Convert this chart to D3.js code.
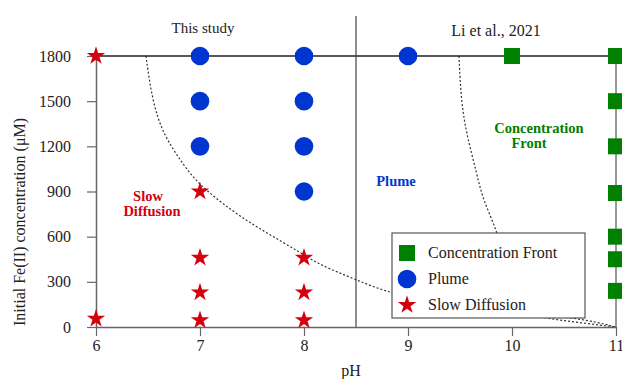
<!DOCTYPE html>
<html lang="en">
<head>
    <meta charset="UTF-8">
    <title>pH vs Fe(II) regimes</title>
    <script src="https://d3js.org/d3.v7.min.js"></script>
    <style>
        body { margin: 0; background: #fff; }
        text { font-family: "Liberation Serif", "Times New Roman", serif; }
    </style>
</head>
<body>

<svg id="main" width="622" height="379"></svg>
<script>

    // tick values
    const phTicks = [6, 7, 8, 9, 10, 11];
    const feTicks = [0, 300, 600, 900, 1200, 1500, 1800];

    // Slow Diffusion (stars)
    const slowPH = [6, 6, 7, 7, 7, 7, 8, 8, 8];
    const slowFe = [1800, 55, 900, 460, 230, 45, 460, 230, 45];

    // Plume (circles)
    const plumePH = [7, 7, 7, 8, 8, 8, 8, 9];
    const plumeFe = [1800, 1500, 1200, 1800, 1500, 1200, 900, 1800];

    // Concentration Front (squares)
    const frontPH = [10, 11, 11, 11, 11, 11, 11, 11];
    const frontFe = [1800, 1800, 1500, 1200, 890, 600, 450, 240];

    // dotted boundaries
    const boundA_PH = [6.48, 6.54, 6.64, 6.81, 6.97, 7.32, 7.64, 7.96, 8.15, 8.51, 8.86, 9.5, 10.0, 10.65, 11];
    const boundA_Fe = [1800, 1507, 1288, 1108, 956, 763, 624, 498, 412, 312, 212, 140, 100, 60, 0];
    const boundB_PH = [9.49, 9.51, 9.56, 9.66, 9.72, 9.87, 9.93, 9.98, 10.1, 10.4, 10.7, 11];
    const boundB_Fe = [1800, 1507, 1288, 1023, 843, 622, 400, 200, 90, 50, 25, 0];

    const red = '#d5000f', blue = '#0036cf', green = '#008000';

    const svg = d3.select('svg#main');

    const x = d3.scaleLinear().domain([6, 11]).range([96, 616]);
    const y = d3.scaleLinear().domain([0, 1800]).range([327, 56]);

    // dotted boundary curves
    const line = d3.line()
        .x(d => x(d[0]))
        .y(d => y(d[1]))
        .curve(d3.curveBasis);

    [[boundA_PH, boundA_Fe], [boundB_PH, boundB_Fe]].forEach(b => {
        svg.append('path')
            .attr('d', line(b[0].map((p, i) => [p, b[1][i]])))
            .attr('fill', 'none')
            .attr('stroke', '#333')
            .attr('stroke-width', 1.2)
            .attr('stroke-dasharray', '2,2');
    });

    // top line at 1800 and right border
    svg.append('line')
        .attr('x1', x(6)).attr('x2', x(11))
        .attr('y1', y(1800)).attr('y2', y(1800))
        .attr('stroke', '#222').attr('stroke-width', 1.5);
    svg.append('line')
        .attr('x1', x(11)).attr('x2', x(11))
        .attr('y1', y(1800)).attr('y2', y(0))
        .attr('stroke', '#777').attr('stroke-width', 1.5);

    // separator between this study and Li et al.
    svg.append('line')
        .attr('x1', x(8.5)).attr('x2', x(8.5))
        .attr('y1', 16).attr('y2', y(0))
        .attr('stroke', '#444').attr('stroke-width', 1.2);

    // axes
    const xAxis = svg.append('g')
        .attr('transform', `translate(0,${y(0)})`)
        .call(d3.axisBottom(x).tickValues(phTicks).tickFormat(d3.format('d'))
            .tickSize(9).tickPadding(4).tickSizeOuter(0));
    const yAxis = svg.append('g')
        .attr('transform', `translate(${x(6)},0)`)
        .call(d3.axisLeft(y).tickValues(feTicks).tickFormat(d3.format('d'))
            .tickSize(9).tickPadding(16).tickSizeOuter(0));

    [xAxis, yAxis].forEach(a => {
        a.select('.domain').attr('stroke', '#666').attr('stroke-width', 1.5);
        a.selectAll('.tick line').attr('stroke', '#666').attr('stroke-width', 1.2);
        a.selectAll('.tick text')
            .attr('fill', '#222')
            .style('font-size', '16px')
            .style('font-family', '"Liberation Serif", serif');
    });

    // axis titles
    svg.append('text')
        .attr('x', 351).attr('y', 376)
        .attr('text-anchor', 'middle')
        .style('font-size', '16px').attr('fill', '#222')
        .text('pH');
    svg.append('text')
        .attr('transform', 'translate(25,222) rotate(-90)')
        .attr('text-anchor', 'middle')
        .style('font-size', '16px').attr('fill', '#222')
        .text('Initial Fe(II) concentration (μM)');

    // section headings
    svg.append('text')
        .attr('x', 203).attr('y', 33)
        .attr('text-anchor', 'middle')
        .style('font-size', '15px').attr('fill', '#222')
        .text('This study');
    svg.append('text')
        .attr('x', 496).attr('y', 36)
        .attr('text-anchor', 'middle')
        .style('font-size', '16px').attr('fill', '#222')
        .text('Li et al., 2021');

    // region labels
    const regionLabels = [
        {t: 'Slow', cx: 148, cy: 201, c: red},
        {t: 'Diffusion', cx: 152, cy: 216, c: red},
        {t: 'Plume', cx: 396, cy: 186, c: blue},
        {t: 'Concentration', cx: 539, cy: 133, c: green},
        {t: 'Front', cx: 529, cy: 148, c: green}
    ];
    svg.selectAll('text.region')
        .data(regionLabels)
        .enter()
        .append('text')
        .attr('class', 'region')
        .attr('x', d => d.cx).attr('y', d => d.cy)
        .attr('text-anchor', 'middle')
        .style('font-size', '14.5px').style('font-weight', 'bold')
        .attr('fill', d => d.c)
        .text(d => d.t);

    // legend box
    const lg = svg.append('g');
    lg.append('rect')
        .attr('x', 392).attr('y', 233)
        .attr('width', 193).attr('height', 85)
        .attr('fill', '#fff').attr('stroke', '#555').attr('stroke-width', 1.2);

    const starSym = d3.symbol().type(d3.symbolStar).size(105);
    const circleSym = d3.symbol().type(d3.symbolCircle).size(272);
    const squareSym = d3.symbol().type(d3.symbolSquare).size(256);

    const legendItems = [
        {name: 'Concentration Front', sym: squareSym, c: green},
        {name: 'Plume', sym: circleSym, c: blue},
        {name: 'Slow Diffusion', sym: starSym, c: red}
    ];
    legendItems.forEach((d, i) => {
        const yy = 253 + i * 26;
        lg.append('path')
            .attr('transform', `translate(407,${yy})`)
            .attr('d', d.sym())
            .attr('fill', d.c);
        lg.append('text')
            .attr('x', 428).attr('y', yy + 5)
            .style('font-size', '16px').attr('fill', '#222')
            .text(d.name);
    });

    // markers
    function drawMarkers(phs, fes, sym, color) {
        svg.append('g')
            .selectAll('path')
            .data(phs.map((p, i) => [p, fes[i]]))
            .enter()
            .append('path')
            .attr('transform', d => `translate(${x(d[0])},${y(d[1])})`)
            .attr('d', sym())
            .attr('fill', color);
    }
    drawMarkers(plumePH, plumeFe, circleSym, blue);
    drawMarkers(frontPH, frontFe, squareSym, green);
    drawMarkers(slowPH, slowFe, starSym, red);

</script>
</body>
</html>
